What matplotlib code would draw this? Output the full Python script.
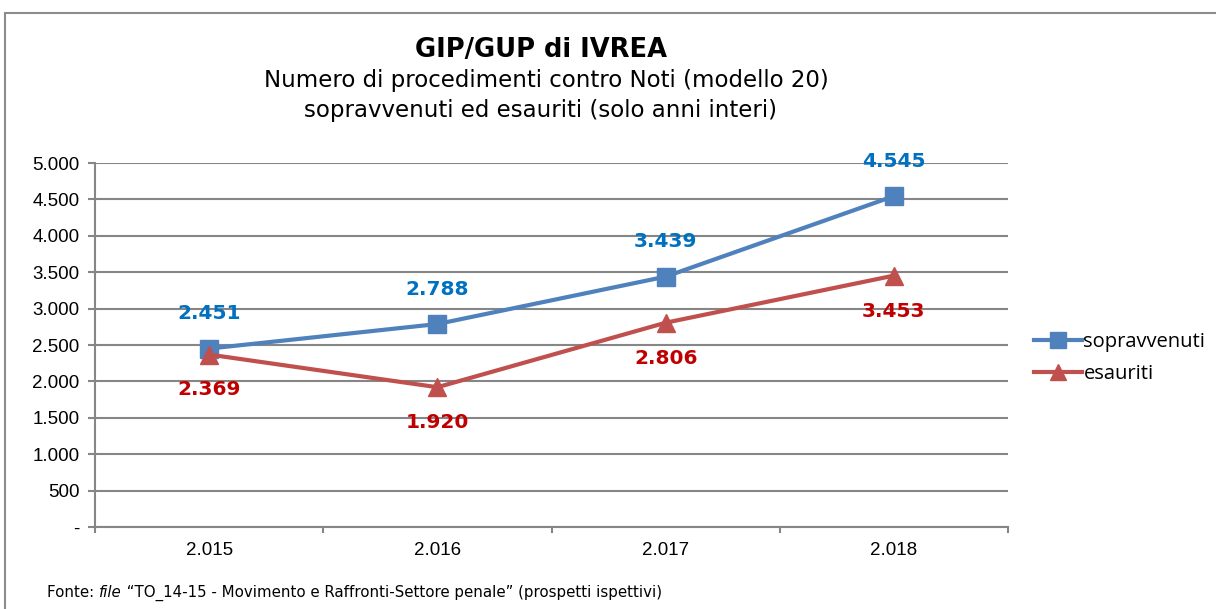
import matplotlib
matplotlib.use("Agg")
import matplotlib.pyplot as plt
from matplotlib.ticker import FuncFormatter, FixedLocator
from matplotlib.patches import Rectangle
from matplotlib.offsetbox import TextArea, HPacker, AnchoredOffsetbox

years = ["2.015", "2.016", "2.017", "2.018"]
sopravvenuti = [2451, 2788, 3439, 4545]
esauriti = [2369, 1920, 2806, 3453]
yticks = [0, 500, 1000, 1500, 2000, 2500, 3000, 3500, 4000, 4500, 5000]

def fmt(v):
    return f"{int(v):,}".replace(",", ".")

fig = plt.figure(figsize=(12.16, 6.09), dpi=100)
fig.patch.set_facecolor("white")
W, H = 1216, 609
ax = fig.add_axes([95 / W, 1 - 527 / H, (1008 - 95) / W, (527 - 163) / H])

# chart frame
fig.patches.append(Rectangle((5 / W, -0.1), 1.2, 1 - 13 / H + 0.1, transform=fig.transFigure,
                             fill=False, edgecolor="#8c8c8c", linewidth=1.5))

x = list(range(len(years)))
blue_line = "#4F81BD"
red_line = "#C0504D"
ax.plot(x, sopravvenuti, color=blue_line, lw=3.0, marker="s", markersize=12.5,
        label="sopravvenuti", zorder=4)
ax.plot(x, esauriti, color=red_line, lw=3.0, marker="^", markersize=13,
        label="esauriti", zorder=4)

lab_font = dict(family="DejaVu Sans", fontsize=14.5, fontweight="bold")
for xi, v in zip(x, sopravvenuti):
    ax.annotate(fmt(v), (xi, v), xytext=(0, 25), textcoords="offset points",
                ha="center", va="center", color="#0070C0", **lab_font)
for xi, v in zip(x, esauriti):
    ax.annotate(fmt(v), (xi, v), xytext=(0, -25.5), textcoords="offset points",
                ha="center", va="center", color="#C00000", **lab_font)

ax.set_xlim(-0.5, 3.5)
ax.set_ylim(0, 5000)
ax.set_yticks(yticks)
ax.yaxis.set_major_formatter(FuncFormatter(lambda v, p: "-" if v == 0 else fmt(v)))
ax.set_xticks(x)
ax.set_xticklabels(years)
ax.xaxis.set_minor_locator(FixedLocator([-0.5, 0.5, 1.5, 2.5, 3.5]))
ax.tick_params(axis="x", which="major", length=0, pad=11, labelsize=13.5)
ax.tick_params(axis="x", which="minor", length=4, width=1.5, color="#868686", direction="out")
ax.tick_params(axis="y", which="major", length=5, width=1.5, color="#868686", direction="out",
               labelsize=13.5, pad=6)
for lbl in ax.get_xticklabels() + ax.get_yticklabels():
    lbl.set_family("Liberation Sans")

ax.grid(axis="y", color="#868686", lw=1.5, zorder=0)
for s in ["top", "right"]:
    ax.spines[s].set_visible(False)
ax.spines["left"].set_color("#868686")
ax.spines["left"].set_linewidth(1.5)
ax.spines["bottom"].set_color("#868686")
ax.spines["bottom"].set_linewidth(1.5)
ax.set_axisbelow(True)

leg = fig.legend(loc="center left", bbox_to_anchor=(1016 / W, 1 - 358 / H), frameon=False,
                 prop={"family": "Open Sans", "size": 14.5}, handlelength=2.4,
                 handletextpad=0.05, labelspacing=0.6, markerscale=0.9)

fig.text(541 / W, 1 - 50 / H, "GIP/GUP di IVREA", ha="center", va="center",
         fontsize=18.5, fontweight="bold", family="DejaVu Sans")
fig.text(546 / W, 1 - 80 / H, "Numero di procedimenti contro Noti (modello 20)", ha="center",
         va="center", fontsize=16.5, family="DejaVu Sans")
fig.text(541 / W, 1 - 110 / H, "sopravvenuti ed esauriti (solo anni interi)", ha="center",
         va="center", fontsize=16.5, family="DejaVu Sans")

parts = [("Fonte: ", "normal"), ("file", "italic"),
         (" \u201cTO_14-15 - Movimento e Raffronti-Settore penale\u201d (prospetti ispettivi)", "normal")]
boxes = [TextArea(s, textprops=dict(fontsize=10.8, family="DejaVu Sans", style=st)) for s, st in parts]
pack = HPacker(children=boxes, align="baseline", pad=0, sep=0)
ab = AnchoredOffsetbox(loc="center left", child=pack, frameon=False,
                       bbox_to_anchor=(47 / W, 1 - 593 / H), bbox_transform=fig.transFigure,
                       borderpad=0, pad=0)
fig.add_artist(ab)

fig.savefig("out.png", dpi=100)
